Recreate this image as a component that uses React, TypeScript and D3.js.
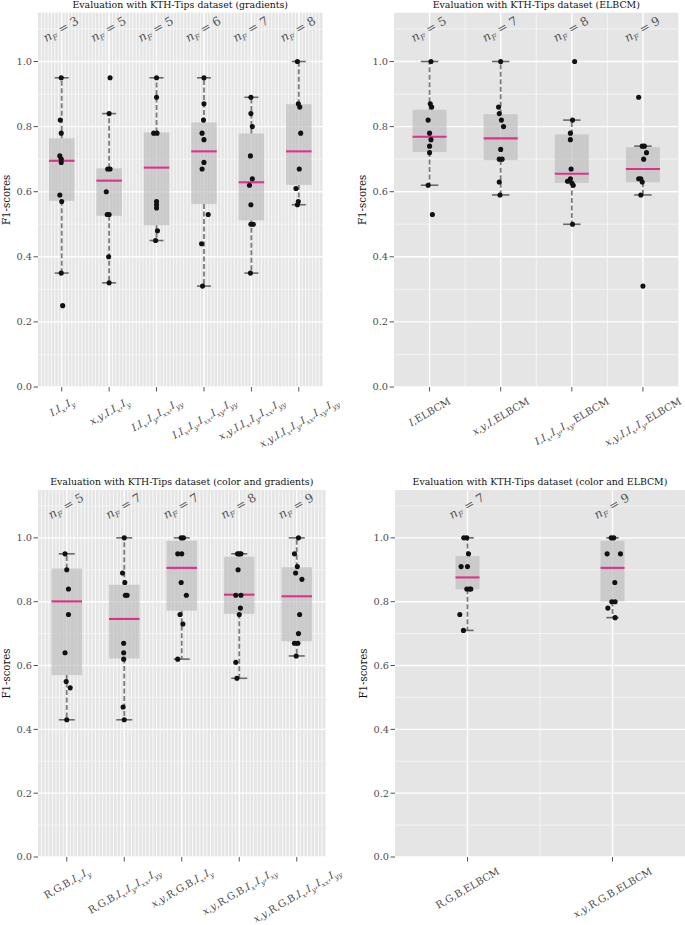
import React, { useEffect, useRef } from "react";
import * as d3 from "d3";

// ---------------- Data ----------------
const gradCategories = [
  "I,I_x,I_y",
  "x,y,I,I_x,I_y",
  "I,I_x,I_y,I_xx,I_yy",
  "I,I_x,I_y,I_xx,I_xy,I_yy",
  "x,y,I,I_x,I_y,I_xx,I_yy",
  "x,y,I,I_x,I_y,I_xx,I_xy,I_yy",
];
const gradNF = [3, 5, 5, 6, 7, 8];
const gradLow = [0.35, 0.32, 0.45, 0.31, 0.35, 0.56];
const gradQ1 = [0.572, 0.526, 0.497, 0.562, 0.512, 0.621];
const gradMedian = [0.695, 0.634, 0.674, 0.724, 0.629, 0.724];
const gradQ3 = [0.764, 0.672, 0.782, 0.813, 0.779, 0.869];
const gradHigh = [0.95, 0.84, 0.95, 0.95, 0.89, 1.0];
const gradPoints = [
  [0.95, 0.82, 0.78, 0.71, 0.7, 0.69, 0.59, 0.57, 0.35, 0.25],
  [0.95, 0.84, 0.67, 0.67, 0.6, 0.53, 0.53, 0.4, 0.32],
  [0.95, 0.89, 0.78, 0.78, 0.57, 0.56, 0.55, 0.48, 0.45],
  [0.95, 0.87, 0.82, 0.78, 0.76, 0.69, 0.67, 0.53, 0.44, 0.31],
  [0.89, 0.84, 0.8, 0.71, 0.64, 0.62, 0.56, 0.5, 0.5, 0.35],
  [1.0, 0.87, 0.86, 0.78, 0.67, 0.61, 0.57, 0.56],
];
const gradJitter = [
  [-0.01, -0.03, -0.01, -0.04, -0.01, -0.01, -0.04, 0, -0.01, 0.02],
  [0.02, 0, -0.03, 0.02, -0.06, -0.04, 0, -0.01, 0],
  [0, 0, -0.06, 0.01, 0, 0, 0, 0.02, -0.02],
  [0, 0, -0.01, -0.04, 0, 0, -0.04, 0.09, -0.05, -0.03],
  [-0.01, -0.01, 0.02, -0.02, 0.02, -0.04, -0.01, -0.01, 0.04, -0.02],
  [-0.03, -0.01, 0.02, 0.04, 0.01, -0.06, -0.01, -0.03],
];

const elbCategories = ["I,ELBCM", "x,y,I,ELBCM", "I,I_x,I_y,I_xy,ELBCM", "x,y,I,I_x,I_y,ELBCM"];
const elbNF = [5, 7, 8, 9];
const elbLow = [0.62, 0.59, 0.5, 0.59];
const elbQ1 = [0.722, 0.697, 0.627, 0.629];
const elbMedian = [0.769, 0.764, 0.655, 0.67];
const elbQ3 = [0.852, 0.838, 0.776, 0.737];
const elbHigh = [1.0, 1.0, 0.82, 0.74];
const elbPoints = [
  [1.0, 0.87, 0.86, 0.82, 0.78, 0.76, 0.74, 0.72, 0.62, 0.53],
  [1.0, 0.86, 0.84, 0.82, 0.8, 0.73, 0.7, 0.7, 0.63, 0.59],
  [1.0, 0.82, 0.78, 0.76, 0.67, 0.64, 0.632, 0.627, 0.62, 0.5],
  [0.89, 0.74, 0.74, 0.72, 0.7, 0.64, 0.64, 0.63, 0.59, 0.31],
];
const elbJitter = [
  [0.02, 0.01, 0.03, -0.02, 0, 0.02, 0, 0, -0.02, 0.04],
  [0, -0.03, -0.02, 0.01, 0.04, 0, -0.02, 0.02, -0.02, -0.01],
  [0.04, 0.01, -0.02, -0.02, -0.01, -0.02, -0.06, 0, 0.02, 0.01],
  [-0.06, -0.01, 0.02, 0.05, 0.01, -0.06, -0.03, -0.01, -0.03, 0],
];

const colGradCategories = [
  "R,G,B,I_x,I_y",
  "R,G,B,I_x,I_y,I_xx,I_yy",
  "x,y,R,G,B,I_x,I_y",
  "x,y,R,G,B,I_x,I_y,I_xy",
  "x,y,R,G,B,I_x,I_y,I_xx,I_yy",
];
const colGradNF = [5, 7, 7, 8, 9];
const colGradLow = [0.43, 0.43, 0.62, 0.56, 0.63];
const colGradQ1 = [0.57, 0.622, 0.772, 0.762, 0.676];
const colGradMedian = [0.801, 0.746, 0.906, 0.822, 0.817];
const colGradQ3 = [0.904, 0.853, 0.991, 0.941, 0.908];
const colGradHigh = [0.95, 1.0, 1.0, 0.95, 1.0];
const colGradPoints = [
  [0.95, 0.9, 0.84, 0.76, 0.64, 0.55, 0.53, 0.43],
  [1.0, 0.89, 0.86, 0.82, 0.82, 0.67, 0.64, 0.62, 0.47, 0.43],
  [1.0, 1.0, 0.95, 0.95, 0.86, 0.82, 0.76, 0.73, 0.62],
  [0.95, 0.95, 0.95, 0.9, 0.82, 0.82, 0.78, 0.76, 0.61, 0.56],
  [1.0, 0.95, 0.91, 0.89, 0.87, 0.76, 0.7, 0.67, 0.67, 0.63],
];
const colGradJitter = [
  [-0.03, 0, 0.03, 0.03, -0.03, -0.01, 0.06, 0],
  [0, -0.03, 0.01, 0.02, 0.05, -0.01, -0.01, -0.01, -0.02, 0],
  [-0.01, 0.03, -0.07, 0, -0.01, 0.08, -0.03, 0.02, -0.07],
  [-0.03, 0, 0.03, -0.02, -0.06, 0.03, 0.02, 0, -0.06, -0.04],
  [0.03, -0.04, 0.01, -0.02, 0.09, 0.05, 0.03, -0.04, 0.02, -0.01],
];

const colElbCategories = ["R,G,B,ELBCM", "x,y,R,G,B,ELBCM"];
const colElbNF = [7, 9];
const colElbLow = [0.71, 0.75];
const colElbQ1 = [0.839, 0.801];
const colElbMedian = [0.876, 0.906];
const colElbQ3 = [0.943, 0.991];
const colElbHigh = [1.0, 1.0];
const colElbPoints = [
  [1.0, 1.0, 0.95, 0.91, 0.91, 0.84, 0.84, 0.84, 0.76, 0.71],
  [1.0, 1.0, 0.95, 0.95, 0.86, 0.8, 0.8, 0.78, 0.75],
];
const colElbJitter = [
  [-0.025, -0.005, 0.007, -0.044, 0, -0.005, 0.014, 0.023, -0.053, -0.028],
  [-0.009, 0.009, -0.037, 0.055, 0.016, -0.005, 0.018, -0.032, 0.018],
];

const yTicks = [0, 0.2, 0.4, 0.6, 0.8, 1.0];
const yMinorTicks = [0.1, 0.3, 0.5, 0.7, 0.9, 1.1];
const yDomain = [0, 1.15];
const nfLabelValue = 1.095;

// ---------------- Panels (layout + data refs) ----------------
const panels = [
  {
    title: "Evaluation with KTH-Tips dataset (gradients)",
    categories: gradCategories, nF: gradNF, low: gradLow, q1: gradQ1, median: gradMedian,
    q3: gradQ3, high: gradHigh, points: gradPoints, jitter: gradJitter,
    left: 38, right: 322.5, top: 12.7, bottom: 387, boxW: 25.5, capW: 14, stripes: 14,
  },
  {
    title: "Evaluation with KTH-Tips dataset (ELBCM)",
    categories: elbCategories, nF: elbNF, low: elbLow, q1: elbQ1, median: elbMedian,
    q3: elbQ3, high: elbHigh, points: elbPoints, jitter: elbJitter,
    left: 394, right: 678.5, top: 12.7, bottom: 387, boxW: 34, capW: 17.5, stripes: 0,
  },
  {
    title: "Evaluation with KTH-Tips dataset (color and gradients)",
    categories: colGradCategories, nF: colGradNF, low: colGradLow, q1: colGradQ1, median: colGradMedian,
    q3: colGradQ3, high: colGradHigh, points: colGradPoints, jitter: colGradJitter,
    left: 38, right: 325.5, top: 490, bottom: 857, boxW: 30.5, capW: 16, stripes: 16,
  },
  {
    title: "Evaluation with KTH-Tips dataset (color and ELBCM)",
    categories: colElbCategories, nF: colElbNF, low: colElbLow, q1: colElbQ1, median: colElbMedian,
    q3: colElbQ3, high: colElbHigh, points: colElbPoints, jitter: colElbJitter,
    left: 395, right: 685, top: 490, bottom: 857, boxW: 24, capW: 12.5, stripes: 0,
  },
];

const FONT = "'DejaVu Serif', 'Liberation Serif', serif";
const BG = "#e5e5e5";
const MEDIAN = "#e0318a";
const ANGLE = 30;

function addMath(text: any, label: string, fs: number) {
  const tokens = label.split(",");
  let shift = 0;
  const add = (s: string, italic: boolean, sub: boolean) => {
    const target = sub ? fs * 0.3 : 0;
    const t = text.append("tspan").text(s);
    if (italic) t.attr("font-style", "italic");
    if (sub) t.attr("font-size", fs * 0.7);
    if (target !== shift) {
      t.attr("dy", target - shift);
      shift = target;
    }
  };
  tokens.forEach((tok, i) => {
    if (i > 0) add(",", false, false);
    const m = tok.match(/^([A-Za-z]+)_([a-z]+)$/);
    if (m) {
      add(m[1], true, false);
      add(m[2], true, true);
    } else {
      add(tok, /^[Ixy]$/.test(tok), false);
    }
  });
}

function drawPanel(svg: any, p: any) {
  const g = svg.append("g");
  const x = d3.scalePoint<string>().domain(p.categories).range([p.left, p.right]).padding(0.5);
  const step = x.step();
  const y = d3.scaleLinear().domain(yDomain).range([p.bottom, p.top]);

  g.append("rect")
    .attr("x", p.left).attr("y", p.top)
    .attr("width", p.right - p.left).attr("height", p.bottom - p.top)
    .attr("fill", BG);

  // vertical grid
  if (p.stripes > 0) {
    const pitch = step / p.stripes;
    const n = Math.round((p.right - p.left) / pitch);
    const xs = d3.range(1, n).map((k) => p.left + k * pitch);
    g.selectAll(".vstr").data(xs).enter().append("line")
      .attr("x1", (d: number) => d).attr("x2", (d: number) => d)
      .attr("y1", p.top).attr("y2", p.bottom)
      .attr("stroke", "#fbfbfb").attr("stroke-width", 0.9);
  } else {
    const mids = p.categories.slice(1).map((c: string, i: number) => (x(c)! + x(p.categories[i])!) / 2);
    g.selectAll(".vmin").data(mids).enter().append("line")
      .attr("x1", (d: number) => d).attr("x2", (d: number) => d)
      .attr("y1", p.top).attr("y2", p.bottom)
      .attr("stroke", "#f6f6f6").attr("stroke-width", 0.9);
  }
  // horizontal grid
  g.selectAll(".hmin").data(yMinorTicks).enter().append("line")
    .attr("x1", p.left).attr("x2", p.right)
    .attr("y1", (d: number) => y(d)).attr("y2", (d: number) => y(d))
    .attr("stroke", "#f6f6f6").attr("stroke-width", 0.8);
  g.selectAll(".hmaj").data(yTicks).enter().append("line")
    .attr("x1", p.left).attr("x2", p.right)
    .attr("y1", (d: number) => y(d)).attr("y2", (d: number) => y(d))
    .attr("stroke", "#ffffff").attr("stroke-width", 1.4);
  g.selectAll(".vmaj").data(p.categories).enter().append("line")
    .attr("x1", (d: string) => x(d)!).attr("x2", (d: string) => x(d)!)
    .attr("y1", p.top).attr("y2", p.bottom)
    .attr("stroke", "#ffffff").attr("stroke-width", 1.4);

  // boxes
  p.categories.forEach((c: string, i: number) => {
    const cx = x(c)!;
    g.append("rect")
      .attr("x", cx - p.boxW / 2).attr("y", y(p.q3[i]))
      .attr("width", p.boxW).attr("height", y(p.q1[i]) - y(p.q3[i]))
      .attr("fill", "#bcbcbc").attr("fill-opacity", 0.68);
    [[p.q3[i], p.high[i]], [p.q1[i], p.low[i]]].forEach(([a, b]) => {
      g.append("line")
        .attr("x1", cx).attr("x2", cx).attr("y1", y(a)).attr("y2", y(b))
        .attr("stroke", "#7d7d7d").attr("stroke-width", 1.8)
        .attr("stroke-dasharray", "5,2.5");
    });
    [p.low[i], p.high[i]].forEach((v: number) => {
      g.append("line")
        .attr("x1", cx - p.capW / 2).attr("x2", cx + p.capW / 2)
        .attr("y1", y(v)).attr("y2", y(v))
        .attr("stroke", "#6a6a6a").attr("stroke-width", 1.6);
    });
    g.append("line")
      .attr("x1", cx - p.boxW / 2).attr("x2", cx + p.boxW / 2)
      .attr("y1", y(p.median[i])).attr("y2", y(p.median[i]))
      .attr("stroke", MEDIAN).attr("stroke-width", 2.1);
  });

  // points
  p.categories.forEach((c: string, i: number) => {
    const cx = x(c)!;
    g.selectAll(null).data(p.points[i]).enter().append("circle")
      .attr("cx", (_d: number, j: number) => cx + p.jitter[i][j] * step)
      .attr("cy", (d: number) => y(d))
      .attr("r", 2.55)
      .attr("fill", "#111111");
  });

  // nF labels
  p.categories.forEach((c: string, i: number) => {
    const fs = 12;
    const t = g.append("text")
      .attr("transform", `translate(${x(c)},${y(nfLabelValue)}) rotate(${-ANGLE})`)
      .attr("text-anchor", "middle")
      .attr("y", fs * 0.2)
      .attr("font-family", FONT).attr("font-size", fs).attr("fill", "#555555");
    t.append("tspan").attr("font-style", "italic").text("n");
    t.append("tspan").attr("font-style", "italic").attr("font-size", fs * 0.65).attr("dy", fs * 0.25).text("F");
    t.append("tspan").attr("dy", -fs * 0.25).text(` = ${p.nF[i]}`);
  });

  // y axis
  yTicks.forEach((v) => {
    g.append("line")
      .attr("x1", p.left - 4.5).attr("x2", p.left)
      .attr("y1", y(v)).attr("y2", y(v))
      .attr("stroke", "#555").attr("stroke-width", 1);
    g.append("text")
      .attr("x", p.left - 6).attr("y", y(v) + 3.4)
      .attr("text-anchor", "end")
      .attr("font-family", FONT).attr("font-size", 9.8).attr("fill", "#4d4d4d")
      .text(d3.format(".1f")(v));
  });
  g.append("text")
    .attr("transform", `translate(${p.left - 28.5},${(p.top + p.bottom) / 2}) rotate(-90)`)
    .attr("text-anchor", "middle")
    .attr("font-family", FONT).attr("font-size", 10.2).attr("fill", "#111")
    .text("F1-scores");

  // x axis
  p.categories.forEach((c: string) => {
    const cx = x(c)!;
    g.append("line")
      .attr("x1", cx).attr("x2", cx).attr("y1", p.bottom).attr("y2", p.bottom + 4.5)
      .attr("stroke", "#555").attr("stroke-width", 1);
    const fs = 10;
    const t = g.append("text")
      .attr("text-anchor", "middle")
      .attr("y", fs * 0.35)
      .attr("font-family", FONT).attr("font-size", fs).attr("fill", "#4d4d4d");
    addMath(t, c, fs);
    const L = (t.node() as SVGTextElement).getComputedTextLength();
    const rad = (ANGLE * Math.PI) / 180;
    const cy = p.bottom + 9 + (L * Math.sin(rad) + fs * Math.cos(rad)) / 2;
    t.attr("transform", `translate(${cx},${cy}) rotate(${-ANGLE})`);
  });

  // title
  g.append("text")
    .attr("x", (p.left + p.right) / 2).attr("y", p.top - 5)
    .attr("text-anchor", "middle")
    .attr("font-family", FONT).attr("font-size", 9.4).attr("fill", "#111")
    .text(p.title);
}

export default function App() {
  const ref = useRef<SVGSVGElement | null>(null);
  useEffect(() => {
    const svg = d3.select(ref.current);
    svg.selectAll("*").remove();
    panels.forEach((p) => drawPanel(svg, p));
  }, []);
  return (
    <svg
      ref={ref}
      width={685}
      height={925}
      style={{ position: "absolute", left: 0, top: 0, display: "block", background: "#ffffff" }}
    />
  );
}
